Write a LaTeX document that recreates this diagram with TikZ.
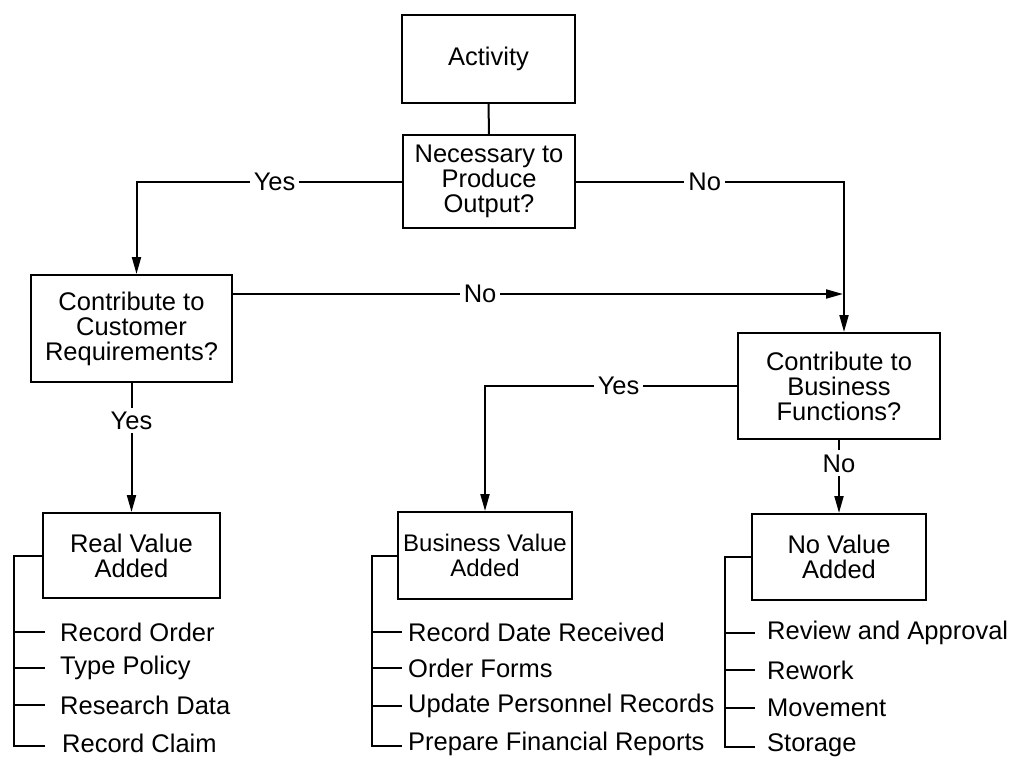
\documentclass[tikz,border=0pt]{standalone}
\usepackage{fontspec}
\setmainfont{Liberation Sans}
\usetikzlibrary{arrows.meta,calc}
\begin{document}
\begin{tikzpicture}[x=1pt,y=-1pt,
  txt/.style={font=\fontsize{25.5}{25}\selectfont},
  box/.style={draw,line width=2pt,inner sep=0pt,align=center,txt},
  ln/.style={line width=2pt},
  arr/.style={ln,-{Triangle[length=17pt,width=9pt]}},
  lbl/.style={fill=white,inner sep=4pt,txt},
  item/.style={anchor=west,inner sep=0pt,txt}]
\useasboundingbox[fill=white] (0,0) rectangle (1011,758);

% boxes
\node[box,minimum width=173pt,minimum height=88pt] (act) at (488.5,59) {Activity};
\node[box,minimum width=172pt,minimum height=93pt] (nec) at (489,181.5) {Necessary to\\Produce\\Output?};
\node[box,minimum width=201pt,minimum height=107pt] (cust) at (131.5,328.5) {Contribute to\\Customer\\Requirements?};
\node[box,minimum width=202pt,minimum height=106pt] (bus) at (839,386) {Contribute to\\Business\\Functions?};
\node[box,minimum width=177pt,minimum height=85pt] (real) at (131.5,555.5) {Real Value\\Added};
\node[box,minimum width=174pt,minimum height=87pt,font=\fontsize{24}{25}\selectfont] (bva) at (485,555.5) {Business Value\\Added};
\node[box,minimum width=174pt,minimum height=86pt] (nva) at (839,557) {No Value\\Added};

% connectors
\draw[ln] (act) -- (nec);
\coordinate (lv) at ($(nec.west -| cust.north)+(5,0)$);
\draw[arr] (nec.west) -- node[lbl,pos=0.48]{Yes} (lv) -- ($(cust.north)+(5,0)$);
\coordinate (rv) at ($(nec.east -| bus.north)+(5,0)$);
\draw[arr] (nec.east) -- node[lbl,pos=0.48]{No} (rv) -- ($(bus.north)+(5,0)$);
\coordinate (c1) at ($(cust.north east)+(0,20)$);
\coordinate (c2) at (c1 -| rv);
\draw[arr] (c1) -- node[lbl,pos=0.405]{No} ($(c2)+(-1,0)$);
\draw[arr] (bus.west) -- node[lbl,pos=0.47]{Yes} (bus.west -| bva.north) -- (bva.north);
\draw[arr] (cust.south) -- node[lbl,pos=0.29]{Yes} (real.north);
\draw[arr] (bus.south) -- node[lbl,pos=0.32]{No} (nva.north);

% real value list
\node[item] (r1) at (60,632) {Record Order};
\node[item] (r2) at (60,668) {Type Policy};
\node[item] (r3) at (60,705) {Research Data};
\node[item] (r4) at (62,743) {Record Claim};
\draw[ln] (real.west) -- (real.west -| 14,0) |- ($(r4.west)+(-17,3)$);
\foreach \i in {1,2,3}{\draw[ln] (r\i.west -| 14,0) -- ($(r\i.west)+(-15,0)$);}

% business value list
\node[item] (b1) at (408,632) {Record Date Received};
\node[item] (b2) at (408,668) {Order Forms};
\node[item] (b3) at (408,706) {Update Personnel Records};
\node[item] (b4) at (408,744) {Prepare Financial Reports};
\draw[ln] (bva.west) -- (bva.west -| 372,0) |- ($(b4.west)+(-6,2)$);
\foreach \i in {1,2,3}{\draw[ln] (b\i.west -| 372,0) -- ($(b\i.west)+(-6,0)$);}

% no value list
\node[item] (n1) at (767,633) {Review and Approval};
\node[item] (n2) at (767,670) {Rework};
\node[item] (n3) at (767,708) {Movement};
\node[item] (n4) at (767,745) {Storage};
\draw[ln] (nva.west) -- (nva.west -| 725,0) |- ($(n4.west)+(-12,2)$);
\foreach \i in {1,2,3}{\draw[ln] (n\i.west -| 725,0) -- ($(n\i.west)+(-12,0)$);}
\end{tikzpicture}
\end{document}
